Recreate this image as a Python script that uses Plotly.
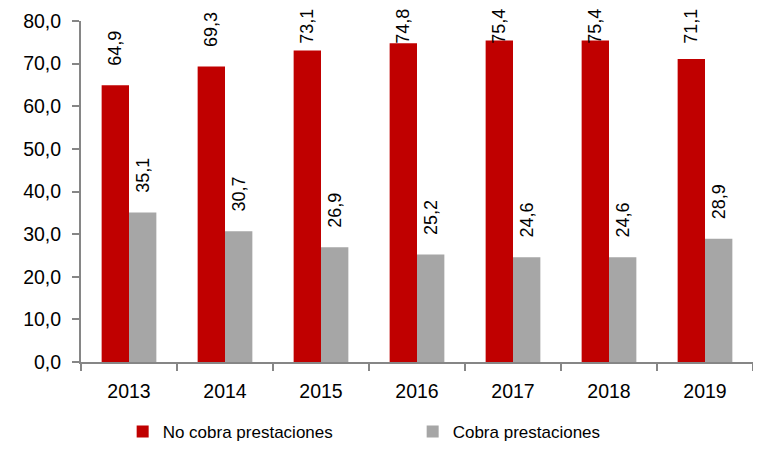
import plotly.graph_objects as go

years = ['2013', '2014', '2015', '2016', '2017', '2018', '2019']
no_cobra = [64.9, 69.3, 73.1, 74.8, 75.4, 75.4, 71.1]
cobra = [35.1, 30.7, 26.9, 25.2, 24.6, 24.6, 28.9]

red = '#C00000'
grey = '#A6A6A6'
axis_color = '#868686'
font = 'Liberation Sans, Arial, sans-serif'

fig = go.Figure()
fig.add_trace(go.Bar(
    name='No cobra prestaciones',
    x=years,
    y=no_cobra,
    marker_color=red,
    marker_line_width=0,
))
fig.add_trace(go.Bar(
    name='Cobra prestaciones',
    x=years,
    y=cobra,
    marker_color=grey,
    marker_line_width=0,
))

# value labels, rotated, kept inside the top of the chart
# (category axis: annotation x is the category index)
annotations = []
for i in range(len(years)):
    for val, shift in ((no_cobra[i], -14), (cobra[i], 14)):
        annotations.append(dict(
            x=i,
            y=min(val + 4, 74.1),
            xshift=shift,
            yanchor='bottom',
            text=f'{val:.1f}'.replace('.', ','),
            textangle=-90,
            showarrow=False,
            font=dict(size=18, color='black', family=font),
        ))

# the page body adds an 8px offset, margins compensate for it
fig.update_layout(
    width=761,
    height=453,
    margin=dict(l=73, r=16, t=13, b=99, autoexpand=False),
    plot_bgcolor='white',
    paper_bgcolor='white',
    barmode='group',
    bargap=0.43,
    bargroupgap=0,
    separators=',.',
    font=dict(family=font, color='black', size=19),
    annotations=annotations,
    legend=dict(
        orientation='h',
        x=0.062,
        xanchor='left',
        y=-0.205,
        yanchor='middle',
        entrywidth=245,
        font=dict(size=17),
    ),
)
fig.update_yaxes(
    range=[0, 80],
    dtick=10,
    tickformat='.1f',
    showgrid=False,
    zeroline=False,
    showline=True,
    linecolor=axis_color,
    linewidth=2,
    ticks='outside',
    ticklen=7,
    tickcolor=axis_color,
    tickwidth=2,
    ticklabelstandoff=7,
    tickfont=dict(size=19.5),
)
fig.update_xaxes(
    type='category',
    range=[-0.5, 6.5],
    showgrid=False,
    showline=True,
    linecolor=axis_color,
    linewidth=2,
    ticks='outside',
    tickson='boundaries',
    ticklen=7,
    tickcolor=axis_color,
    tickwidth=2,
    ticklabelstandoff=11,
    tickfont=dict(size=19.5),
)

fig.write_html('out.html')
